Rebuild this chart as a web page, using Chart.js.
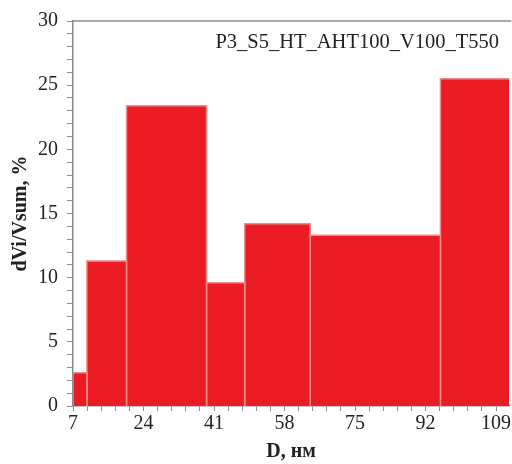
<!DOCTYPE html>
<html>
<head>
<meta charset="utf-8">
<script src="https://cdn.jsdelivr.net/npm/chart.js@4"></script>
<style>
  html, body { margin: 0; padding: 0; background: #fff; }
  #wrap { width: 512px; height: 464px; }
</style>
</head>
<body>
<div id="wrap"><canvas id="hist" width="512" height="464"></canvas></div>
<script>
// bin edges (nm) and share of volume per bin (%)
const binEdges = [7, 10.35, 19.9, 39.2, 48.4, 64.2, 95.6, 130];
const binValues = [2.6, 11.3, 23.4, 9.6, 14.2, 13.3, 25.5];
const xMajorTicks = [7, 24, 41, 58, 75, 92, 109];
const yMajorTicks = [0, 5, 10, 15, 20, 25, 30];
const sampleName = 'P3_S5_HT_AHT100_V100_T550';

const X_MIN = 7, X_MAX = 112.2;
const axisColor = '#8c8c8c';
const serif = '"Liberation Serif", "DejaVu Serif", serif';

// each bin becomes a closed step outline filled down to zero
const datasets = binValues.map((v, i) => ({
  data: [
    { x: binEdges[i], y: 0 },
    { x: binEdges[i], y: v },
    { x: binEdges[i + 1], y: v },
    { x: binEdges[i + 1], y: 0 }
  ],
  fill: 'origin',
  backgroundColor: '#ec1c24',
  borderColor: '#ee8c8c',
  borderWidth: 1.5,
  pointRadius: 0,
  tension: 0
}));

// minor ticks: 5 divisions per major step
function minorTicks(majors, div) {
  const out = [];
  const step = (majors[1] - majors[0]) / div;
  for (let k = 0; k < majors.length - 1; k++) {
    for (let j = 0; j < div; j++) out.push(majors[k] + j * step);
  }
  out.push(majors[majors.length - 1]);
  for (let j = 1; j < div; j++) out.push(majors[majors.length - 1] + j * step);
  return out;
}

const topFrame = {
  id: 'topFrame',
  afterDraw(chart) {
    const { ctx, chartArea } = chart;
    ctx.save();
    ctx.strokeStyle = axisColor;
    ctx.lineWidth = 1.5;
    ctx.beginPath();
    ctx.moveTo(chartArea.left, chartArea.top);
    ctx.lineTo(chartArea.right + 2, chartArea.top);
    ctx.stroke();
    ctx.fillStyle = '#222';
    ctx.font = '20.5px ' + serif;
    ctx.textAlign = 'right';
    ctx.textBaseline = 'middle';
    ctx.fillText(sampleName, 499, 43);
    ctx.restore();
  }
};

new Chart(document.getElementById('hist'), {
  type: 'line',
  data: { datasets },
  plugins: [topFrame],
  options: {
    responsive: false,
    animation: false,
    layout: { padding: { top: 18, right: 0, left: 0, bottom: 0 } },
    plugins: { legend: { display: false }, tooltip: { enabled: false } },
    scales: {
      x: {
        type: 'linear',
        min: X_MIN,
        max: X_MAX,
        afterBuildTicks: s => { s.ticks = minorTicks(xMajorTicks, 5).filter(v => v <= X_MAX).map(v => ({ value: v })); },
        afterFit: s => { s.height = 58; },
        ticks: {
          autoSkip: false,
          maxRotation: 0,
          padding: 1,
          color: '#222',
          font: { family: serif, size: 20 },
          callback: v => xMajorTicks.some(m => Math.abs(m - v) < 1e-6) ? String(Math.round(v)) : ''
        },
        grid: { drawOnChartArea: false, tickLength: 5, color: axisColor },
        border: { color: axisColor, width: 1.5 },
        title: {
          display: true,
          text: 'D, нм',
          color: '#222',
          font: { family: serif, size: 20, weight: 'bold' },
          padding: { top: 0, bottom: 0 }
        }
      },
      y: {
        min: 0,
        max: 30,
        afterBuildTicks: s => { s.ticks = minorTicks(yMajorTicks, 5).filter(v => v <= 30).map(v => ({ value: v })); },
        afterFit: s => { s.width = 73; },
        ticks: {
          autoSkip: false,
          padding: 9,
          color: '#222',
          font: { family: serif, size: 20 },
          callback: v => yMajorTicks.includes(Math.round(v)) && Math.abs(v - Math.round(v)) < 1e-6 ? String(Math.round(v)) : ''
        },
        grid: { drawOnChartArea: false, tickLength: 6, color: axisColor },
        border: { color: axisColor, width: 1.5 },
        title: {
          display: true,
          text: 'dVi/Vsum, %',
          color: '#222',
          font: { family: serif, size: 20, weight: 'bold' },
          padding: { top: 9, bottom: 0 }
        }
      }
    }
  }
});
</script>
</body>
</html>
